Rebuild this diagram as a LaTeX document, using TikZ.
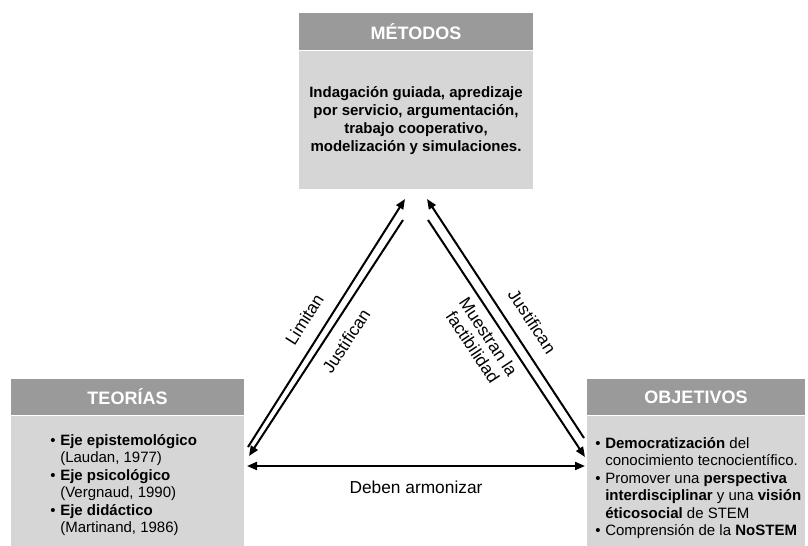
\documentclass[tikz,border=0pt]{standalone}
\usepackage{fontspec}
\setmainfont{Liberation Sans}
\usepackage{xcolor}
\usepackage{tikz}
\usetikzlibrary{positioning, arrows.meta, calc}

\definecolor{headgray}{RGB}{154,154,154}
\definecolor{bodygray}{RGB}{214,214,214}

\newcommand{\bul}{\makebox[7.5pt][l]{\textbullet}}
\newcommand{\ind}{\hspace*{7.5pt}}

\begin{document}
\begin{tikzpicture}[x=0.75pt, y=-0.75pt,
    head/.style={fill=headgray, text=white, inner sep=0pt,
      font=\bfseries\fontsize{13.5pt}{15pt}\selectfont},
    body/.style={fill=bodygray, inner sep=0pt},
    listtext/.style={align=left, inner sep=0pt,
      font=\fontsize{11.25pt}{13.1pt}\selectfont},
    line/.style={line width=1.5pt},
    lbl/.style={inner sep=0pt, font=\fontsize{13pt}{14pt}\selectfont},
    >={Triangle[length=7.5pt,width=6pt]}]
  \useasboundingbox (0,0) rectangle (808,546);

  % Metodos
  \node[head, minimum width=175.5pt, minimum height=27.75pt] (metodoshead) at (416,31.5) {MÉTODOS};
  \node[body, minimum width=175.5pt, minimum height=103.5pt, below=0pt of metodoshead] (metodos) {};
  \node[align=center, inner sep=0pt, font=\bfseries\fontsize{11.25pt}{13.5pt}\selectfont] (metodostxt) at (416,121)
    {Indagación guiada, apredizaje\\por servicio, argumentación,\\trabajo cooperativo,\\modelización y simulaciones.};

  % Teorias
  \node[head, minimum width=174.75pt, minimum height=27pt] (teoriashead) at (127.5,397) {TEORÍAS};
  \node[body, minimum width=174.75pt, minimum height=98.25pt, below=0pt of teoriashead] (teorias) {};
  \node[listtext, anchor=west] (teoriastxt) at (50,485)
    {\bul\textbf{Eje epistemológico}\\
     \ind(Laudan, 1977)\\
     \bul\textbf{Eje psicológico}\\
     \ind(Vergnaud, 1990)\\
     \bul\textbf{Eje didáctico}\\
     \ind(Martinand, 1986)};

  % Objetivos
  \node[head, minimum width=163.5pt, minimum height=27pt] (objetivoshead) at (696,397) {OBJETIVOS};
  \node[body, minimum width=163.5pt, minimum height=98.25pt, below=0pt of objetivoshead] (objetivos) {};
  \node[listtext, anchor=west] (objetivostxt) at (595,488)
    {\bul\textbf{Democratización} del\\
     \ind conocimiento tecnocientífico.\\
     \bul Promover una \textbf{perspectiva}\\
     \ind\textbf{interdisciplinar} y una \textbf{visión}\\
     \ind\textbf{éticosocial} de STEM\\
     \bul Comprensión de la \textbf{NoSTEM}};

  % arrow ends
  \coordinate (teoA) at (248,447);
  \coordinate (metA) at (405,199);
  \coordinate (teoB) at (249,456);
  \coordinate (metB) at (403,220);
  \coordinate (metC) at (427,199);
  \coordinate (objC) at (584,438);
  \coordinate (metD) at (428,220);
  \coordinate (objD) at (585,457);
  \coordinate (teoE) at (247,466);
  \coordinate (objE) at (585,466);

  % Arrows
  \draw[line, ->] (teoA) -- node[lbl, sloped, pos=0.47, above=10pt] (limitan) {Limitan} (metA);
  \draw[line, <-] (teoB) -- node[lbl, sloped, pos=0.53, below=8.5pt] (justificanL) {Justifican} (metB);
  \draw[line, <-] (metC) -- node[lbl, sloped, pos=0.56, above=10pt] (justificanR) {Justifican} (objC);
  \draw[line, ->] (metD) -- node[lbl, sloped, pos=0.46, below=5pt, align=center] (muestran) {Muestran la\\factibilidad} (objD);
  \draw[line, <->] (teoE) -- node[lbl, below=10.5pt] (armonizar) {Deben armonizar} (objE);
\end{tikzpicture}
\end{document}
